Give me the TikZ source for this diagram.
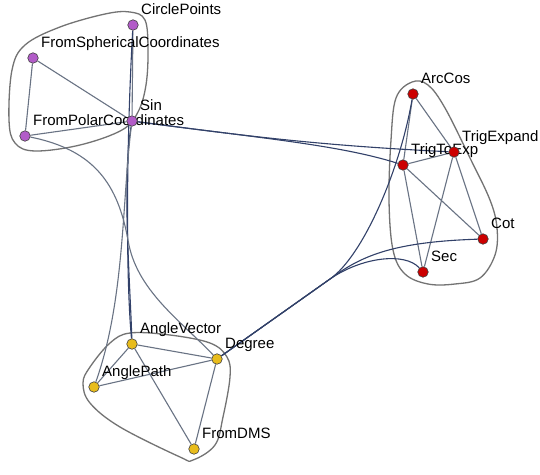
\documentclass[tikz,border=0pt]{standalone}
\usepackage{fontspec}
\setmainfont{Liberation Sans}
\pgfdeclarelayer{hulls}
\pgfdeclarelayer{edges}
\pgfdeclarelayer{labels}
\pgfsetlayers{hulls,edges,labels,main}
\definecolor{vpurple}{RGB}{178,92,200}
\definecolor{vred}{RGB}{204,0,0}
\definecolor{vyellow}{RGB}{232,188,28}
\definecolor{edgec}{RGB}{105,115,132}
\definecolor{bundlec}{RGB}{50,65,105}
\definecolor{hullc}{RGB}{115,115,115}
\tikzset{
  vtx/.style={circle, draw=black!75, line width=0.6pt, minimum size=10.5pt, inner sep=0pt},
  pv/.style={vtx, fill=vpurple},
  rv/.style={vtx, fill=vred},
  yv/.style={vtx, fill=vyellow},
  lab/.style={anchor=base west, inner sep=0pt, font=\fontsize{15}{18}\selectfont},
  edge/.style={draw=edgec, line width=1.1pt},
  bund/.style={draw=bundlec, line width=1.1pt},
  hull/.style={draw=hullc, line width=1.3pt},
}
\begin{document}
\begin{tikzpicture}[x=1pt,y=-1pt]
\useasboundingbox (0,0) rectangle (540,474);
% vertices
\node[pv] (CP)  at (133,25)  {};
\node[pv] (FS)  at (33,58)   {};
\node[pv] (FP)  at (25,136)  {};
\node[pv] (Sin) at (132,121) {};
\node[rv] (AC)  at (413,94)  {};
\node[rv] (TTE) at (403,165) {};
\node[rv] (TE)  at (454,152) {};
\node[rv] (Cot) at (483,239) {};
\node[rv] (Sec) at (423,272) {};
\node[yv] (AV)  at (132,344) {};
\node[yv] (AP)  at (94,387)  {};
\node[yv] (Deg) at (217,359) {};
\node[yv] (DMS) at (194,449) {};
\coordinate (bR) at (330,279);
% labels
\begin{pgfonlayer}{labels}
\node[lab] (lCP)  at ([shift={(8pt,11pt)}]CP.center)  {CirclePoints};
\node[lab] (lFS)  at ([shift={(8pt,11pt)}]FS.center)  {FromSphericalCoordinates};
\node[lab] (lFP)  at ([shift={(8pt,11pt)}]FP.center)  {FromPolarCoordinates};
\node[lab] (lSin) at ([shift={(8pt,11pt)}]Sin.center) {Sin};
\node[lab] (lAC)  at ([shift={(8pt,11pt)}]AC.center)  {ArcCos};
\node[lab] (lTTE) at ([shift={(8pt,11pt)}]TTE.center) {TrigToExp};
\node[lab] (lTE)  at ([shift={(8pt,11pt)}]TE.center)  {TrigExpand};
\node[lab] (lCot) at ([shift={(8pt,11pt)}]Cot.center) {Cot};
\node[lab] (lSec) at ([shift={(8pt,11pt)}]Sec.center) {Sec};
\node[lab] (lAV)  at ([shift={(8pt,11pt)}]AV.center)  {AngleVector};
\node[lab] (lAP)  at ([shift={(8pt,11pt)}]AP.center)  {AnglePath};
\node[lab] (lDeg) at ([shift={(8pt,11pt)}]Deg.center) {Degree};
\node[lab] (lDMS) at ([shift={(8pt,11pt)}]DMS.center) {FromDMS};
\end{pgfonlayer}
% hulls
\begin{pgfonlayer}{hulls}
\fill[white] (0,0) rectangle (540,474);
\draw[hull] plot[smooth cycle, tension=0.6] coordinates {
  (130,12) (145,20) (148,50) (146,85) (138,112) (122,130) (80,145) (35,151)
  (15,143) (9,120) (12,70) (25,45) (60,27) (105,14)};
\draw[hull] plot[smooth cycle, tension=0.6] coordinates {
  (412,82) (428,85) (445,108) (470,158) (490,200) (497,228) (495,255)
  (480,278) (455,284) (428,284) (405,274) (393,250) (389,200) (391,140) (396,98)};
\draw[hull] plot[smooth cycle, tension=0.6] coordinates {
  (130,333) (170,335) (210,343) (227,357) (230,377) (223,417) (215,445)
  (193,460) (180,457) (120,427) (90,403) (83,383) (90,367) (110,343)};
\end{pgfonlayer}
% edges
\begin{pgfonlayer}{edges}
% purple group
\draw[edge] (FS) -- (FP);
\draw[edge] (FS) -- (Sin);
\draw[edge] (FP) -- (Sin);
\draw[edge] (CP) -- (Sin);
% red group
\draw[edge] (AC) -- (TTE);
\draw[edge] (AC) -- (TE);
\draw[edge] (TTE) -- (TE);
\draw[edge] (TTE) -- (Cot);
\draw[edge] (TTE) -- (Sec);
\draw[edge] (TE) -- (Cot);
\draw[edge] (TE) -- (Sec);
% yellow group
\draw[edge] (AV) -- (AP);
\draw[edge] (AV) -- (Deg);
\draw[edge] (AV) -- (DMS);
\draw[edge] (AP) -- (Deg);
\draw[edge] (Deg) -- (DMS);
% between groups
\draw[bund] (Sin) .. controls (260,138) and (340,145) .. (TTE);
\draw[bund] (Sin) .. controls (260,138) and (330,146) .. (TE);
\draw[bund] (Sin) .. controls (122,180) and (130,280) .. (AV);
\draw[bund] (CP) .. controls (126,150) and (126,280) .. (AV);
\draw[edge] (Sin) .. controls (122,200) and (125,300) .. (AP);
\draw[edge] (FP) .. controls (95,150) and (118,185) .. (128,240)
                 .. controls (136,290) and (180,320) .. (Deg);
\draw[bund] (Deg) -- (bR) .. controls (363,256) and (400,170) .. (AC);
\draw[bund] (Deg) -- (bR) .. controls (360,257) and (390,242) .. (Cot);
\draw[bund] (Deg) -- (bR) .. controls (362,257) and (405,252) .. (Sec);
\end{pgfonlayer}
\end{tikzpicture}
\end{document}
